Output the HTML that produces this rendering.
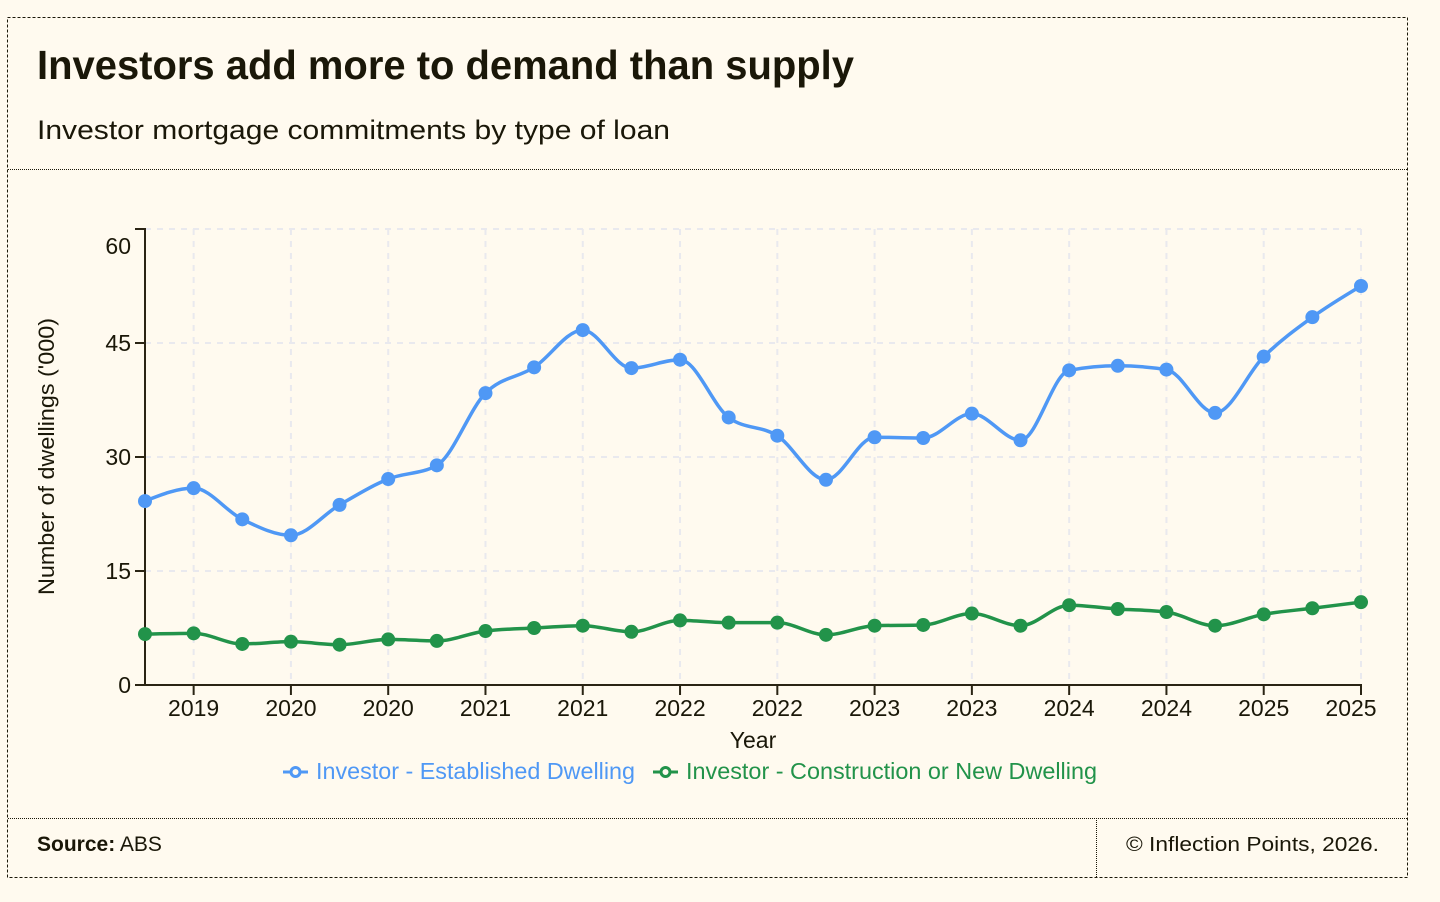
<!DOCTYPE html>
<html lang="en">
<head>
<meta charset="utf-8">
<title>Investors add more to demand than supply</title>
<style>
html,body{margin:0;padding:0;background:#fffaef;width:1440px;height:902px;overflow:hidden}
svg{display:block}
text{font-family:"Liberation Sans",sans-serif;fill:#1a1708}
</style>
</head>
<body>
<svg id="chart" width="1440" height="902" viewBox="0 0 1440 902" xmlns="http://www.w3.org/2000/svg">
  <rect x="7.5" y="17.5" width="1400" height="860" fill="none" stroke="#1a1708" stroke-width="1" stroke-dasharray="3 2" shape-rendering="crispEdges"/>
  <line x1="8" y1="169.5" x2="1407" y2="169.5" stroke="#1a1708" stroke-dasharray="1 1" shape-rendering="crispEdges"/>
  <line x1="8" y1="818.5" x2="1407" y2="818.5" stroke="#1a1708" stroke-dasharray="1 1" shape-rendering="crispEdges"/>
  <line x1="1096.5" y1="818" x2="1096.5" y2="877" stroke="#1a1708" stroke-dasharray="1 1" shape-rendering="crispEdges"/>

  <text x="37" y="79" font-size="41" font-weight="700" textLength="817" lengthAdjust="spacingAndGlyphs">Investors add more to demand than supply</text>
  <text x="37" y="139" font-size="27" textLength="633" lengthAdjust="spacingAndGlyphs">Investor mortgage commitments by type of loan</text>

  <g id="grid"></g>
  <g id="axes"></g>
  <g id="series"></g>

  <text transform="translate(54,456.5) rotate(-90)" text-anchor="middle" font-size="22" textLength="277" lengthAdjust="spacingAndGlyphs">Number of dwellings ('000)</text>
  <text x="753" y="748" text-anchor="middle" font-size="23">Year</text>

  <g>
    <line x1="283" y1="772" x2="308" y2="772" stroke="#4f98f5" stroke-width="3"/>
    <circle cx="295.5" cy="772" r="4.5" fill="#fffaef" stroke="#4f98f5" stroke-width="3"/>
    <text x="316" y="779" font-size="23" style="fill:#4f98f5" textLength="319" lengthAdjust="spacingAndGlyphs">Investor - Established Dwelling</text>
  </g>
  <g>
    <line x1="653" y1="772" x2="678" y2="772" stroke="#22934a" stroke-width="3"/>
    <circle cx="665.5" cy="772" r="4.5" fill="#fffaef" stroke="#22934a" stroke-width="3"/>
    <text x="686" y="779" font-size="23" style="fill:#22934a" textLength="411" lengthAdjust="spacingAndGlyphs">Investor - Construction or New Dwelling</text>
  </g>

  <text x="37" y="851" font-size="21"><tspan font-weight="700">Source:</tspan> ABS</text>
  <text x="1126" y="851" font-size="20" textLength="253" lengthAdjust="spacingAndGlyphs">© Inflection Points, 2026.</text>
</svg>
<script>
const established = [24.2,25.9,21.8,19.7,23.7,27.1,28.9,38.4,41.8,46.7,41.7,42.8,35.2,32.8,27.0,32.6,32.5,35.7,32.2,41.4,42.0,41.5,35.8,43.2,48.4,52.5];
const construction = [6.7,6.8,5.4,5.7,5.3,6.0,5.8,7.1,7.5,7.8,7.0,8.5,8.2,8.2,6.6,7.8,7.9,9.4,7.8,10.5,10.0,9.6,7.8,9.3,10.1,10.9];
const quarterLabels = ["","2019","","2020","","2020","","2021","","2021","","2022","","2022","","2023","","2023","","2024","","2024","","2025","","2025"];
const yTicks = [0,15,30,45,60];

const NS = "http://www.w3.org/2000/svg";
const plotLeft = 145, plotRight = 1361, plotTop = 229, plotBottom = 685, yMax = 60;
const lastIndex = quarterLabels.length - 1;
const xScale = i => plotLeft + (plotRight - plotLeft) * i / lastIndex;
const yScale = v => plotBottom - (plotBottom - plotTop) * v / yMax;

function make(tag, parent, props) {
  const el = document.createElementNS(NS, tag);
  for (const k in props) el.setAttribute(k, props[k]);
  parent.appendChild(el);
  return el;
}

function monotonePath(pts) {
  const n = pts.length;
  const slopes = [];
  for (let i = 0; i < n - 1; i++) slopes.push((pts[i+1][1] - pts[i][1]) / (pts[i+1][0] - pts[i][0]));
  const t = new Array(n);
  for (let i = 1; i < n - 1; i++) {
    const a = slopes[i-1], b = slopes[i];
    t[i] = (a * b <= 0) ? 0 : Math.sign(a) * Math.min(2 * Math.abs(a), 2 * Math.abs(b), 0.5 * Math.abs(a + b));
  }
  t[0] = (3 * slopes[0] - t[1]) / 2;
  t[n-1] = (3 * slopes[n-2] - t[n-2]) / 2;
  let d = "M" + pts[0][0] + "," + pts[0][1];
  for (let i = 0; i < n - 1; i++) {
    const h = (pts[i+1][0] - pts[i][0]) / 3;
    d += "C" + (pts[i][0] + h) + "," + (pts[i][1] + h * t[i]) + " " + (pts[i+1][0] - h) + "," + (pts[i+1][1] - h * t[i+1]) + " " + pts[i+1][0] + "," + pts[i+1][1];
  }
  return d;
}

const gridGroup = document.getElementById("grid");
const axesGroup = document.getElementById("axes");
const seriesGroup = document.getElementById("series");
const gridStyle = {stroke:"#e9e9ee","stroke-width":2,"stroke-dasharray":"6 6",fill:"none"};
const axisColor = "#2a2414";

yTicks.forEach(v => {
  const y = yScale(v);
  if (v > 0) {
    const g = make("line", gridGroup, Object.assign({x1:plotLeft,x2:plotRight,y1:y,y2:y}, gridStyle));
    
    
  }
  const tick = make("line", axesGroup, {x1:plotLeft-10,x2:plotLeft,y1:y,y2:y,stroke:axisColor,"stroke-width":2});
  
  
  const labelY = (v === yMax ? y + 25 : y + 8);
  const label = make("text", axesGroup, {x:131,y:labelY,"text-anchor":"end","font-size":23});
  label.textContent = v;
  
  
});

quarterLabels.forEach((name, i) => {
  if (!name) return;
  const x = xScale(i);
  const g = make("line", gridGroup, Object.assign({x1:x,x2:x,y1:plotTop,y2:plotBottom}, gridStyle));
  
  
  const tick = make("line", axesGroup, {x1:x,x2:x,y1:plotBottom,y2:plotBottom+10,stroke:axisColor,"stroke-width":2});
  
  
  const labelX = (i === lastIndex ? x - 10 : x);
  const label = make("text", axesGroup, {x:labelX,y:716,"text-anchor":"middle","font-size":23});
  label.textContent = name;
  
  
});

const yAxis = make("line", axesGroup, {x1:plotLeft,x2:plotLeft,y1:plotTop-1,y2:plotBottom+1,stroke:axisColor,"stroke-width":2});


const xAxis = make("line", axesGroup, {x1:plotLeft,x2:plotRight+1,y1:plotBottom,y2:plotBottom,stroke:axisColor,"stroke-width":2});



function drawSeries(values, color) {
  const pts = values.map((v, i) => [xScale(i), yScale(v)]);
  const line = make("path", seriesGroup, {d:monotonePath(pts),fill:"none",stroke:color,"stroke-width":3.5});
  
  
  pts.forEach(p => {
    const dot = make("circle", seriesGroup, {cx:p[0],cy:p[1],r:7,fill:color});
    
    
  });
}
drawSeries(established, "#4f98f5");
drawSeries(construction, "#22934a");
</script>
</body>
</html>
